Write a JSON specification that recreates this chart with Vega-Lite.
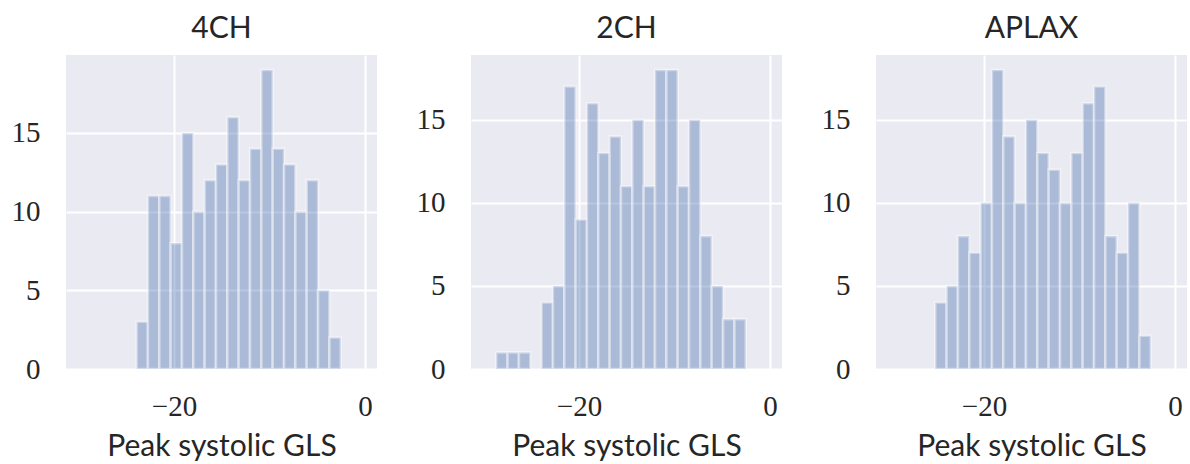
{
  "$schema": "https://vega.github.io/schema/vega-lite/v6.json",
  "background": "white",
  "padding": {"left": 11, "top": 14, "right": 0, "bottom": 0},
  "spacing": 94,
  "bounds": "flush",
  "config": {
    "view": {"fill": "#EAEAF2", "stroke": null},
    "axis": {
      "domain": false, "ticks": false, "grid": true, "gridColor": "white", "gridWidth": 2,
      "labelFont": "Liberation Serif", "labelFontSize": 29, "labelColor": "#262626", "labelPadding": 26,
      "labelOverlap": false, "labelFlush": false,
      "titleFont": "Lato", "titleFontSize": 30, "titleFontWeight": "normal", "titleColor": "#262626"
    },
    "axisX": {"labelPadding": 23, "titlePadding": 10},
    "title": {"font": "Lato", "fontSize": 30, "fontWeight": "normal", "color": "#262626", "offset": 11, "baseline": "alphabetic"}
  },
  "data": {"values": [
    {"panel": "4CH", "start": -23.912, "end": -22.725, "count": 3},
    {"panel": "4CH", "start": -22.725, "end": -21.538, "count": 11},
    {"panel": "4CH", "start": -21.538, "end": -20.351, "count": 11},
    {"panel": "4CH", "start": -20.351, "end": -19.164, "count": 8},
    {"panel": "4CH", "start": -19.164, "end": -17.977, "count": 15},
    {"panel": "4CH", "start": -17.977, "end": -16.79, "count": 10},
    {"panel": "4CH", "start": -16.79, "end": -15.603, "count": 12},
    {"panel": "4CH", "start": -15.603, "end": -14.416, "count": 13},
    {"panel": "4CH", "start": -14.416, "end": -13.229, "count": 16},
    {"panel": "4CH", "start": -13.229, "end": -12.042, "count": 12},
    {"panel": "4CH", "start": -12.042, "end": -10.855, "count": 14},
    {"panel": "4CH", "start": -10.855, "end": -9.668, "count": 19},
    {"panel": "4CH", "start": -9.668, "end": -8.481, "count": 14},
    {"panel": "4CH", "start": -8.481, "end": -7.294, "count": 13},
    {"panel": "4CH", "start": -7.294, "end": -6.107, "count": 10},
    {"panel": "4CH", "start": -6.107, "end": -4.92, "count": 12},
    {"panel": "4CH", "start": -4.92, "end": -3.733, "count": 5},
    {"panel": "4CH", "start": -3.733, "end": -2.546, "count": 2},
    {"panel": "2CH", "start": -28.66, "end": -27.473, "count": 1},
    {"panel": "2CH", "start": -27.473, "end": -26.286, "count": 1},
    {"panel": "2CH", "start": -26.286, "end": -25.099, "count": 1},
    {"panel": "2CH", "start": -23.912, "end": -22.725, "count": 4},
    {"panel": "2CH", "start": -22.725, "end": -21.538, "count": 5},
    {"panel": "2CH", "start": -21.538, "end": -20.351, "count": 17},
    {"panel": "2CH", "start": -20.351, "end": -19.164, "count": 9},
    {"panel": "2CH", "start": -19.164, "end": -17.977, "count": 16},
    {"panel": "2CH", "start": -17.977, "end": -16.79, "count": 13},
    {"panel": "2CH", "start": -16.79, "end": -15.603, "count": 14},
    {"panel": "2CH", "start": -15.603, "end": -14.416, "count": 11},
    {"panel": "2CH", "start": -14.416, "end": -13.229, "count": 15},
    {"panel": "2CH", "start": -13.229, "end": -12.042, "count": 11},
    {"panel": "2CH", "start": -12.042, "end": -10.855, "count": 18},
    {"panel": "2CH", "start": -10.855, "end": -9.668, "count": 18},
    {"panel": "2CH", "start": -9.668, "end": -8.481, "count": 11},
    {"panel": "2CH", "start": -8.481, "end": -7.294, "count": 15},
    {"panel": "2CH", "start": -7.294, "end": -6.107, "count": 8},
    {"panel": "2CH", "start": -6.107, "end": -4.92, "count": 5},
    {"panel": "2CH", "start": -4.92, "end": -3.733, "count": 3},
    {"panel": "2CH", "start": -3.733, "end": -2.546, "count": 3},
    {"panel": "APLAX", "start": -25.099, "end": -23.912, "count": 4},
    {"panel": "APLAX", "start": -23.912, "end": -22.725, "count": 5},
    {"panel": "APLAX", "start": -22.725, "end": -21.538, "count": 8},
    {"panel": "APLAX", "start": -21.538, "end": -20.351, "count": 7},
    {"panel": "APLAX", "start": -20.351, "end": -19.164, "count": 10},
    {"panel": "APLAX", "start": -19.164, "end": -17.977, "count": 18},
    {"panel": "APLAX", "start": -17.977, "end": -16.79, "count": 14},
    {"panel": "APLAX", "start": -16.79, "end": -15.603, "count": 10},
    {"panel": "APLAX", "start": -15.603, "end": -14.416, "count": 15},
    {"panel": "APLAX", "start": -14.416, "end": -13.229, "count": 13},
    {"panel": "APLAX", "start": -13.229, "end": -12.042, "count": 12},
    {"panel": "APLAX", "start": -12.042, "end": -10.855, "count": 10},
    {"panel": "APLAX", "start": -10.855, "end": -9.668, "count": 13},
    {"panel": "APLAX", "start": -9.668, "end": -8.481, "count": 16},
    {"panel": "APLAX", "start": -8.481, "end": -7.294, "count": 17},
    {"panel": "APLAX", "start": -7.294, "end": -6.107, "count": 8},
    {"panel": "APLAX", "start": -6.107, "end": -4.92, "count": 7},
    {"panel": "APLAX", "start": -4.92, "end": -3.733, "count": 10},
    {"panel": "APLAX", "start": -3.733, "end": -2.546, "count": 2}
  ]},
  "hconcat": [
    {
      "title": "4CH",
      "width": 311, "height": 314,
      "transform": [{"filter": "datum.panel === '4CH'"}],
      "mark": {"type": "bar", "color": "#4C72B0", "fillOpacity": 0.4, "stroke": "white", "strokeOpacity": 0.4, "strokeWidth": 2.6},
      "encoding": {
        "x": {"field": "start", "type": "quantitative", "scale": {"domain": [-31.3, 1.25], "nice": false, "zero": false}, "axis": {"values": [-20, 0], "title": "Peak systolic GLS"}},
        "x2": {"field": "end"},
        "y": {"field": "count", "type": "quantitative", "scale": {"domain": [0, 19.95], "nice": false}, "axis": {"values": [0, 5, 10, 15], "title": null}},
        "y2": {"datum": 0}
      }
    },
    {
      "title": "2CH",
      "width": 311, "height": 314,
      "transform": [{"filter": "datum.panel === '2CH'"}],
      "mark": {"type": "bar", "color": "#4C72B0", "fillOpacity": 0.4, "stroke": "white", "strokeOpacity": 0.4, "strokeWidth": 2.6},
      "encoding": {
        "x": {"field": "start", "type": "quantitative", "scale": {"domain": [-31.3, 1.25], "nice": false, "zero": false}, "axis": {"values": [-20, 0], "title": "Peak systolic GLS"}},
        "x2": {"field": "end"},
        "y": {"field": "count", "type": "quantitative", "scale": {"domain": [0, 18.9], "nice": false}, "axis": {"values": [0, 5, 10, 15], "title": null}},
        "y2": {"datum": 0}
      }
    },
    {
      "title": "APLAX",
      "width": 311, "height": 314,
      "transform": [{"filter": "datum.panel === 'APLAX'"}],
      "mark": {"type": "bar", "color": "#4C72B0", "fillOpacity": 0.4, "stroke": "white", "strokeOpacity": 0.4, "strokeWidth": 2.6},
      "encoding": {
        "x": {"field": "start", "type": "quantitative", "scale": {"domain": [-31.3, 1.25], "nice": false, "zero": false}, "axis": {"values": [-20, 0], "title": "Peak systolic GLS"}},
        "x2": {"field": "end"},
        "y": {"field": "count", "type": "quantitative", "scale": {"domain": [0, 18.9], "nice": false}, "axis": {"values": [0, 5, 10, 15], "title": null}},
        "y2": {"datum": 0}
      }
    }
  ]
}
